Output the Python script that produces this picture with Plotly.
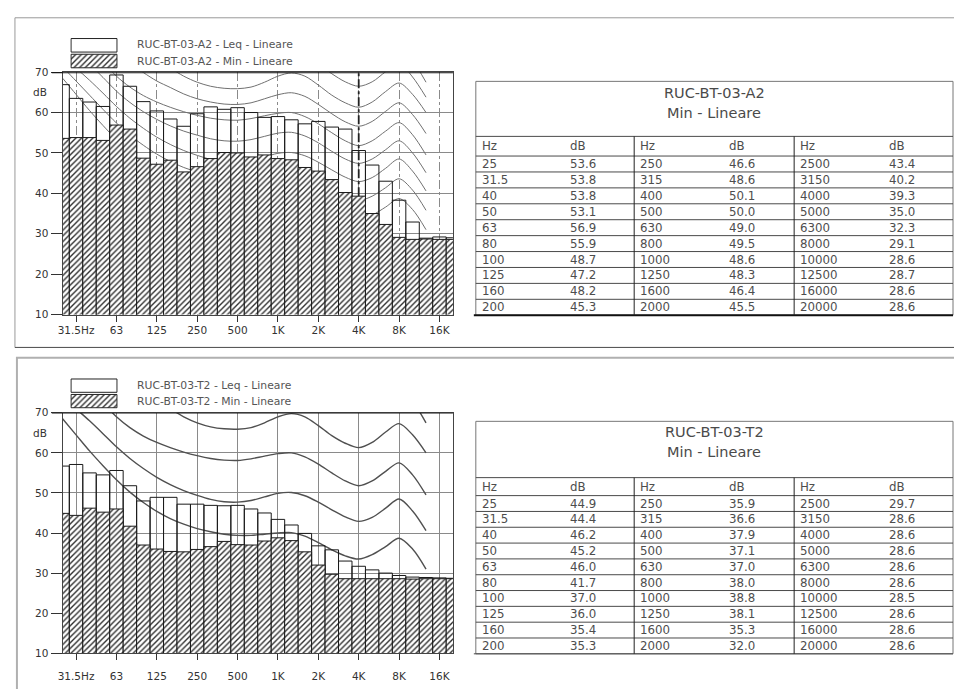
import plotly.graph_objects as go

W, H = 954, 689

# ---------------- data ----------------
bands_hz = ["25", "31.5", "40", "50", "63", "80", "100", "125", "160", "200",
            "250", "315", "400", "500", "630", "800", "1000", "1250", "1600", "2000",
            "2500", "3150", "4000", "5000", "6300", "8000", "10000", "12500", "16000", "20000"]

tick_bands = ["31.5", "63", "125", "250", "500", "1000", "2000", "4000", "8000", "16000"]
tick_labels = ["31.5Hz", "63", "125", "250", "500", "1K", "2K", "4K", "8K", "16K"]

a2_name = "RUC-BT-03-A2"
a2_min = [53.6, 53.8, 53.8, 53.1, 56.9, 55.9, 48.7, 47.2, 48.2, 45.3,
          46.6, 48.6, 50.1, 50.0, 49.0, 49.5, 48.6, 48.3, 46.4, 45.5,
          43.4, 40.2, 39.3, 35.0, 32.3, 29.1, 28.6, 28.7, 28.6, 28.6]
a2_leq = [66.9, 63.5, 62.6, 61.5, 69.3, 66.5, 62.7, 60.4, 58.4, 56.6,
          59.7, 61.4, 60.8, 61.2, 60.0, 58.8, 59.0, 58.2, 57.2, 57.8,
          56.4, 55.9, 50.6, 47.0, 43.0, 38.3, 32.9, 28.9, 29.2, 29.0]

t2_name = "RUC-BT-03-T2"
t2_min = [44.9, 44.4, 46.2, 45.2, 46.0, 41.7, 37.0, 36.0, 35.4, 35.3,
          35.9, 36.6, 37.9, 37.1, 37.0, 38.0, 38.8, 38.1, 35.3, 32.0,
          29.7, 28.6, 28.6, 28.6, 28.6, 28.6, 28.5, 28.6, 28.6, 28.6]
t2_leq = [56.7, 57.1, 55.0, 54.5, 55.6, 51.8, 48.0, 48.9, 48.9, 47.2,
          47.2, 46.9, 46.8, 46.9, 46.0, 45.0, 43.4, 42.0, 39.9, 36.8,
          35.8, 33.0, 31.7, 30.8, 30.0, 29.4, 29.0, 28.9, 28.8, 28.7]

# contour curves (25 Hz .. 12.5 kHz)
c80 = [101, 98, 95, 92, 89.5, 87, 85, 83, 81, 79.5, 78, 77, 76.3, 76, 76.3, 77.3, 79, 79.8,
       79, 77, 74.8, 72.8, 71.8, 72.6, 75, 77, 73, 67.5]
c75 = [96.5, 93.5, 90.5, 87.5, 85.0, 82.5, 80.3, 78.0, 76.0, 74.3, 72.8, 71.8, 71.2, 71.0,
       71.3, 72.4, 74.0, 74.8, 74.0, 71.9, 69.6, 67.6, 66.5, 67.6, 70.1, 72.2, 68.8, 63.8]
c70 = [92, 89, 86, 83, 80.5, 78, 75.5, 73, 71.0, 69.0, 67.5, 66.5, 66.0, 65.9, 66.3, 67.5,
       69.0, 69.8, 69.0, 66.8, 64.3, 62.4, 61.3, 62.6, 65.2, 67.3, 64.5, 60.0]
c65 = [87.5, 84.3, 81.0, 77.8, 74.8, 72.2, 69.9, 67.8, 66.2, 64.6, 63.4, 62.6, 62.1, 62.0,
       62.4, 63.4, 64.4, 64.9, 64.0, 62.0, 59.7, 57.7, 56.6, 57.8, 60.3, 62.4, 59.5, 54.8]
c60 = [83, 79.5, 76, 72.5, 69.0, 66.3, 64.2, 62.6, 61.3, 60.2, 59.3, 58.6, 58.2, 58.1, 58.5,
       59.2, 59.8, 60.0, 59.0, 57.2, 55.0, 53.0, 51.8, 53.0, 55.4, 57.5, 54.5, 49.5]
c55 = [78.5, 75.3, 72.0, 68.7, 65.3, 62.5, 60.2, 58.3, 56.7, 55.4, 54.4, 53.5, 53.0, 52.9,
       53.3, 54.1, 54.9, 55.1, 54.2, 52.5, 50.4, 48.5, 47.4, 48.5, 50.8, 53.0, 50.0, 45.1]
c50 = [74, 71, 68, 64.8, 61.5, 58.6, 56.1, 53.9, 52.1, 50.6, 49.4, 48.4, 47.8, 47.7, 48.1,
       49.0, 49.9, 50.1, 49.3, 47.7, 45.8, 44.0, 42.9, 43.9, 46.2, 48.5, 45.5, 40.6]
c45 = [71.3, 67.8, 64.3, 60.8, 57.4, 54.4, 51.9, 49.7, 47.9, 46.4, 45.3, 44.4, 43.8, 43.6,
       43.8, 44.4, 45.0, 45.1, 44.3, 42.7, 40.8, 39.2, 38.2, 39.3, 41.4, 43.6, 40.8, 35.8]
c40 = [68.5, 64.5, 60.5, 56.8, 53.3, 50.2, 47.6, 45.4, 43.6, 42.2, 41.1, 40.3, 39.7, 39.4,
       39.4, 39.7, 40.0, 40.1, 39.2, 37.6, 35.8, 34.3, 33.5, 34.6, 36.6, 38.7, 36.0, 31.0]

top_contours = [c80, c75, c70, c65, c60, c55, c50, c45, c40]
bottom_contours = [c80, c70, c60, c50, c40]

y_ticks = [10, 20, 30, 40, 50, 60, 70]
Y_MIN, Y_MAX = 10, 70

# ---------------- helpers ----------------
FONT = "DejaVu Sans"
TXT = "#333333"
HATCH = dict(shape="/", fgcolor="#2e2e2e", bgcolor="white", size=4, solidity=0.34,
             fillmode="replace")


def PX(x):
    return x / W


def PY(y):
    return 1 - y / H


idx = list(range(len(bands_hz)))
tick_idx = [bands_hz.index(b) for b in tick_bands]

fig = go.Figure()
layout = dict(width=W, height=H, margin=dict(l=0, r=0, t=0, b=0),
              paper_bgcolor="white", plot_bgcolor="rgba(0,0,0,0)",
              barmode="overlay", showlegend=False)
shapes = []
annotations = []


def add_chart(n, y_top, y_bot, leq, mn, contours, name, grid_dash, top_w, ticklab_gap,
              cont_color, cont_w, bold_grid_band=None):
    bx, by = f"x{n}", f"y{n}"
    ox, oy = f"x{n+1}", f"y{n+1}"
    xdom = [PX(57.9), PX(450.3)]
    ydom = [PY(y_bot), PY(y_top)]
    for c in contours:
        fig.add_trace(go.Scatter(x=list(range(len(c))), y=c, mode="lines",
                                 line=dict(color=cont_color, width=cont_w, shape="spline",
                                           smoothing=0.9),
                                 xaxis=bx, yaxis=by, hoverinfo="skip"))
    fig.add_trace(go.Bar(x=idx, y=leq, width=1, name=name + " - Leq - Lineare",
                         marker=dict(color="rgba(255,255,255,0)",
                                     line=dict(color="#1a1a1a", width=1)),
                         xaxis=ox, yaxis=oy))
    fig.add_trace(go.Bar(x=idx, y=mn, width=1, name=name + " - Min - Lineare",
                         marker=dict(color="white", pattern=HATCH,
                                     line=dict(color="#1a1a1a", width=1)),
                         xaxis=ox, yaxis=oy))
    k = "" if n == 1 else str(n)
    k2 = str(n + 1)
    layout["xaxis" + k] = dict(domain=xdom, range=[0, len(idx) - 1], anchor=by,
                               tickvals=tick_idx, ticktext=tick_labels, ticks="outside",
                               ticklen=6, tickcolor="#333", ticklabelstandoff=ticklab_gap,
                               showgrid=True, gridcolor="#8a8a8a", gridwidth=1,
                               griddash=grid_dash, zeroline=False, showline=False,
                               tickfont=dict(family=FONT, size=10.5, color=TXT))
    layout["yaxis" + k] = dict(domain=ydom, range=[Y_MIN, Y_MAX], anchor=bx,
                               tickvals=y_ticks, ticks="outside", ticklen=11, tickcolor="#333",
                               showgrid=True, gridcolor="#8a8a8a", gridwidth=1,
                               zeroline=False, showline=False,
                               tickfont=dict(family=FONT, size=10.5, color=TXT))
    layout["xaxis" + k2] = dict(overlaying=bx, range=[0, len(idx) - 1], anchor=oy,
                                showgrid=False, showticklabels=False, ticks="", zeroline=False,
                                showline=True, mirror=True, linecolor="#444", linewidth=1)
    layout["yaxis" + k2] = dict(overlaying=by, range=[Y_MIN, Y_MAX], anchor=ox,
                                showgrid=False, showticklabels=False, ticks="", zeroline=False,
                                showline=True, mirror=True, linecolor="#444", linewidth=1)
    # top border line at 70 dB, extending like a tick
    shapes.append(dict(type="line", xref="paper", yref=by, x0=PX(47), x1=xdom[1],
                       y0=Y_MAX, y1=Y_MAX, line=dict(color="#111", width=top_w)))
    if bold_grid_band is not None:
        bi = bands_hz.index(bold_grid_band)
        shapes.append(dict(type="line", xref=ox, yref=oy, x0=bi, x1=bi, y0=mn[bi], y1=Y_MAX,
                           line=dict(color="#222", width=1.8, dash="dashdot")))
    # "dB" unit label
    annotations.append(dict(text="dB", xref="paper", yref=by, x=PX(44), y=(Y_MAX - 5),
                            xanchor="right", yanchor="middle", showarrow=False,
                            font=dict(family=FONT, size=10.5, color=TXT)))


def add_legend(n, y_leq, y_min, name):
    xa, ya = f"x{n}", f"y{n}"
    fig.add_trace(go.Bar(y=[1], x=[1], orientation="h", width=0.86,
                         marker=dict(color="white", line=dict(color="#222", width=1)),
                         xaxis=xa, yaxis=ya, hoverinfo="skip"))
    fig.add_trace(go.Bar(y=[0], x=[1], orientation="h", width=0.86,
                         marker=dict(color="white", pattern=HATCH,
                                     line=dict(color="#222", width=1)),
                         xaxis=xa, yaxis=ya, hoverinfo="skip"))
    layout[f"xaxis{n}"] = dict(domain=[PX(65.5), PX(113.5)], range=[-0.02, 1.02],
                               visible=False, anchor=ya, fixedrange=True)
    layout[f"yaxis{n}"] = dict(domain=[PY(y_min + 7.5), PY(y_leq - 7.5)], range=[-0.5, 1.5],
                               visible=False, anchor=xa, fixedrange=True)
    for txt, yy in ((name + " - Leq - Lineare", y_leq), (name + " - Min - Lineare", y_min)):
        annotations.append(dict(text=txt, xref="paper", yref="paper", x=PX(131), y=PY(yy),
                                xanchor="left", yanchor="middle", showarrow=False,
                                font=dict(family=FONT, size=10.8, color="#555")))


def add_table(name, values, top, t1, t2, head_top, head_bot, row_h, heavy_bottom):
    left, right = 473.3, 953
    seps = [632.5, 793.3]
    groups = [left] + seps
    nrows = 10
    bottom = head_bot + row_h * nrows
    line_c = "#4a4a4a"
    shapes.append(dict(type="rect", xref="paper", yref="paper", x0=PX(left), x1=PX(right),
                       y0=PY(bottom), y1=PY(top), line=dict(color="#777", width=1)))
    for yy in [head_top, head_bot] + [head_bot + row_h * r for r in range(1, nrows)]:
        shapes.append(dict(type="line", xref="paper", yref="paper", x0=PX(left), x1=PX(right),
                           y0=PY(yy), y1=PY(yy), line=dict(color=line_c, width=1)))
    shapes.append(dict(type="line", xref="paper", yref="paper", x0=PX(left - 2), x1=PX(right),
                       y0=PY(bottom), y1=PY(bottom),
                       line=dict(color="#111" if heavy_bottom else line_c,
                                 width=2 if heavy_bottom else 1)))
    for sx in seps:
        shapes.append(dict(type="line", xref="paper", yref="paper", x0=PX(sx), x1=PX(sx),
                           y0=PY(bottom), y1=PY(head_top), line=dict(color="#222", width=1)))
    for txt, yy in ((name, t1), ("Min - Lineare", t2)):
        annotations.append(dict(text=txt, xref="paper", yref="paper", x=PX(713), y=PY(yy),
                                xanchor="center", yanchor="middle", showarrow=False,
                                font=dict(family=FONT, size=14.5, color="#4a4a4a")))
    cell_font = dict(family=FONT, size=11.8, color="#4d4d4d")
    for g, gx in enumerate(groups):
        for txt, off in (("Hz", 4), ("dB", 93)):
            annotations.append(dict(text=txt, xref="paper", yref="paper", x=PX(gx + off),
                                    y=PY((head_top + head_bot) / 2), xanchor="left",
                                    yanchor="middle", showarrow=False, font=cell_font))
        for r in range(nrows):
            k = g * nrows + r
            yy = head_bot + row_h * (r + 0.5)
            annotations.append(dict(text=bands_hz[k], xref="paper", yref="paper", x=PX(gx + 4),
                                    y=PY(yy), xanchor="left", yanchor="middle",
                                    showarrow=False, font=cell_font))
            annotations.append(dict(text=f"{values[k]:.1f}", xref="paper", yref="paper",
                                    x=PX(gx + 93), y=PY(yy), xanchor="left", yanchor="middle",
                                    showarrow=False, font=cell_font))


# panel frames
shapes.append(dict(type="rect", xref="paper", yref="paper", x0=PX(10), x1=PX(970),
                   y0=PY(347.5), y1=PY(12), line=dict(color="#9a9a9a", width=1), layer="below"))
shapes.append(dict(type="line", xref="paper", yref="paper", x0=PX(10), x1=PX(970),
                   y0=PY(347.5), y1=PY(347.5), line=dict(color="#555", width=1)))
shapes.append(dict(type="rect", xref="paper", yref="paper", x0=PX(12), x1=PX(970),
                   y0=PY(710), y1=PY(358), line=dict(color="#b0b0b0", width=2), layer="below"))

add_chart(1, 67.3, 314.0, a2_leq, a2_min, top_contours, a2_name, "dashdot", 2.2, 0,
          "#707070", 1.0, bold_grid_band="4000")
add_chart(3, 414.0, 658.7, t2_leq, t2_min, bottom_contours, t2_name, "solid", 1.2, 7,
          "#505050", 1.4)
add_legend(5, 39.5, 56.5, a2_name)
add_legend(6, 386.0, 402.5, t2_name)
add_table(a2_name, a2_min, 76.7, 88.5, 108.5, 132.7, 152.7, 16.2, True)
add_table(t2_name, t2_min, 422.7, 433.5, 453.5, 480.0, 498.3, 16.1, False)

layout["shapes"] = shapes
layout["annotations"] = annotations
fig.update_layout(**layout)

fig.write_html("out.html", config={"displayModeBar": False},
               post_script="document.body.style.margin='0';document.body.style.overflow='hidden';")
